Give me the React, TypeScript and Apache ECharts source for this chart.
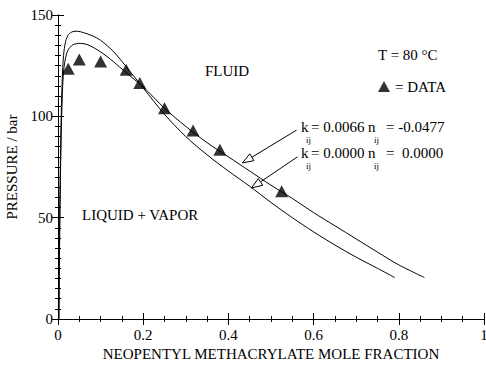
import React, { useEffect, useRef } from 'react';
import * as echarts from 'echarts';

// Experimental data (triangles)
const dataX = [0.024, 0.05, 0.1, 0.16, 0.192, 0.25, 0.317, 0.38, 0.525];
const dataP = [123.5, 128, 127, 123, 116.5, 104, 93, 83.5, 63];

// Model curve kij = 0.0000, nij = 0.0000
const curveAX = [0.002, 0.004, 0.007, 0.01, 0.013, 0.018, 0.025, 0.035, 0.045, 0.06, 0.08, 0.1, 0.13, 0.16, 0.2, 0.25, 0.3, 0.35, 0.4, 0.45, 0.5, 0.55, 0.6, 0.65, 0.7, 0.75, 0.79];
const curveAP = [0, 50, 95, 118, 130, 137, 140.5, 141.8, 142, 141.3, 139.8, 137.5, 132, 124.5, 114, 101, 90, 81, 73, 65.5, 57.5, 50, 43, 36.5, 30.5, 25, 20.5];

// Model curve kij = 0.0066, nij = -0.0477
const curveBX = [0.002, 0.005, 0.008, 0.011, 0.014, 0.018, 0.023, 0.035, 0.052, 0.07, 0.1, 0.13, 0.16, 0.2, 0.25, 0.3, 0.35, 0.4, 0.45, 0.5, 0.55, 0.6, 0.65, 0.7, 0.75, 0.8, 0.86];
const curveBP = [0, 60, 95, 115, 124, 129, 132.5, 135.3, 136, 135.3, 131.8, 127, 121.5, 114.5, 104, 95, 87, 80, 73, 66, 59.5, 52.5, 46, 39.5, 33, 26.7, 20.5];

const xTicks = { min: 0, max: 1, interval: 0.2 };
const yTicks = { min: 0, max: 150, interval: 50 };

// Arrow annotations (data coordinates: tail -> tip)
const arrows = [
  { from: [0.56, 93.2], to: [0.433, 77] },
  { from: [0.562, 80], to: [0.454, 64.6] },
];

const FONT = "'Liberation Serif', 'Times New Roman', Times, serif";

export default function App() {
  const ref = useRef<HTMLDivElement>(null);
  useEffect(() => {
    if (!ref.current) return;
    const chart = echarts.init(ref.current, null, { renderer: 'svg' });
    const axisCommon = {
      type: 'value' as const,
      axisLine: { show: true, lineStyle: { color: '#000', width: 1 } },
      splitLine: { show: false },
      axisTick: { show: true, inside: true, length: 6, lineStyle: { color: '#000' } },
      minorTick: { show: true, length: 3, lineStyle: { color: '#000' } },
    };
    const labelStyle = { color: '#000', fontFamily: FONT, fontSize: 15 };
    chart.setOption({
      animation: false,
      backgroundColor: '#fff',
      grid: { left: 58, right: 2, top: 15, bottom: 46, outerBoundsMode: 'none', containLabel: false },
      legend: {
        show: true,
        left: 378,
        top: 79,
        padding: 0,
        icon: 'triangle',
        itemWidth: 12,
        itemHeight: 11,
        itemGap: 4,
        data: ['DATA'],
        formatter: () => '= DATA',
        textStyle: { color: '#000', fontFamily: FONT, fontSize: 15 },
      },
      xAxis: [
        {
          ...axisCommon,
          ...xTicks,
          position: 'bottom',
          minorTick: { ...axisCommon.minorTick, splitNumber: 4 },
          axisLabel: { ...labelStyle, margin: 8, formatter: (v: number) => String(v) },
          name: 'NEOPENTYL METHACRYLATE MOLE FRACTION',
          nameLocation: 'middle',
          nameGap: 26,
          nameTextStyle: labelStyle,
        },
        {
          ...axisCommon,
          ...xTicks,
          position: 'top',
          minorTick: { ...axisCommon.minorTick, splitNumber: 4 },
          axisLabel: { show: false },
        },
      ],
      yAxis: [
        {
          ...axisCommon,
          ...yTicks,
          position: 'left',
          minorTick: { ...axisCommon.minorTick, splitNumber: 10 },
          axisLabel: { ...labelStyle, margin: 5 },
          name: 'PRESSURE / bar',
          nameLocation: 'middle',
          nameGap: 31,
          nameTextStyle: labelStyle,
        },
        {
          ...axisCommon,
          ...yTicks,
          position: 'right',
          minorTick: { ...axisCommon.minorTick, splitNumber: 10 },
          axisLabel: { show: false },
        },
      ],
      series: [
        {
          name: 'kij=0.0000',
          type: 'line',
          data: curveAX.map((x, i) => [x, curveAP[i]]),
          showSymbol: false,
          smooth: 0.3,
          lineStyle: { color: '#000', width: 1 },
          silent: true,
        },
        {
          name: 'kij=0.0066',
          type: 'line',
          data: curveBX.map((x, i) => [x, curveBP[i]]),
          showSymbol: false,
          smooth: 0.3,
          lineStyle: { color: '#000', width: 1 },
          silent: true,
        },
        {
          name: 'DATA',
          type: 'scatter',
          data: dataX.map((x, i) => [x, dataP[i]]),
          symbol: 'triangle',
          symbolSize: [13, 12],
          itemStyle: { color: '#000' },
          z: 5,
        },
      ],
    });

    const arrowEls: any[] = [];
    arrows.forEach((a) => {
      const p0 = chart.convertToPixel({ gridIndex: 0 }, a.from) as number[];
      const p1 = chart.convertToPixel({ gridIndex: 0 }, a.to) as number[];
      const dx = p1[0] - p0[0];
      const dy = p1[1] - p0[1];
      const len = Math.hypot(dx, dy);
      const ux = dx / len, uy = dy / len;
      const L = 11, W = 4;
      const bx = p1[0] - ux * L, by = p1[1] - uy * L;
      arrowEls.push({
        type: 'line',
        shape: { x1: p0[0], y1: p0[1], x2: bx, y2: by },
        style: { stroke: '#000', lineWidth: 1 },
      });
      arrowEls.push({
        type: 'polygon',
        shape: { points: [[p1[0], p1[1]], [bx - uy * W, by + ux * W], [bx + uy * W, by - ux * W]] },
        style: { fill: '#fff', stroke: '#000', lineWidth: 1 },
      });
    });

    const txt = (x: number, y: number, text: string, size = 15) => ({
      type: 'text',
      x,
      y,
      style: { text, fill: '#000', fontFamily: FONT, fontSize: size, verticalAlign: 'middle' },
    });

    chart.setOption({
      graphic: [
        ...arrowEls,
        txt(205, 71, 'FLUID'),
        txt(378, 55, 'T = 80 °C'),
        txt(82, 215, 'LIQUID + VAPOR'),
        // label 1
        txt(301, 127, 'k'),
        txt(306, 140, 'ij', 9),
        txt(311, 127, '= 0.0066'),
        txt(368, 127, 'n'),
        txt(374, 140, 'ij', 9),
        txt(386, 127, '= -0.0477'),
        // label 2
        txt(301, 153, 'k'),
        txt(306, 166, 'ij', 9),
        txt(311, 153, '= 0.0000'),
        txt(368, 153, 'n'),
        txt(374, 166, 'ij', 9),
        txt(386, 153, '=  0.0000'),
      ],
    });

    return () => chart.dispose();
  }, []);
  return <div ref={ref} style={{ position: 'fixed', left: 0, top: 0, width: 486, height: 365 }} />;
}
